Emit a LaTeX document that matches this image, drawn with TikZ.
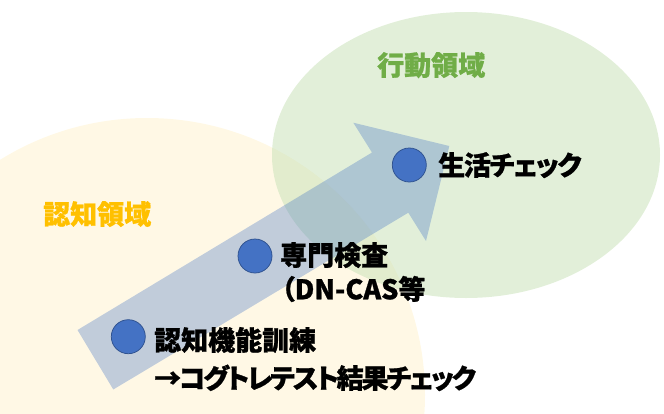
\documentclass[tikz,border=0pt]{standalone}
\usepackage{fontspec}
\setmainfont{Noto Sans CJK JP}[RawFeature=+palt, BoldFeatures={FakeBold=0.9}]
\newfontfamily\tightjp{Noto Sans CJK JP}[RawFeature=+palt, LetterSpace=-5, BoldFeatures={FakeBold=0.9}]
\newfontfamily\tighterjp{Noto Sans CJK JP}[RawFeature=+palt, LetterSpace=-8, BoldFeatures={FakeBold=0.9}]
\definecolor{yellowarea}{HTML}{FFF2CC}
\definecolor{greenarea}{HTML}{C5E0B4}
\definecolor{dotblue}{HTML}{4472C4}
\definecolor{dotedge}{HTML}{2F528F}
\definecolor{cogorange}{HTML}{FFC000}
\definecolor{actgreen}{HTML}{70AD47}
\begin{document}
\begin{tikzpicture}[x=1pt,y=-1pt,
  lbl/.style={anchor=base west, inner sep=0pt, font=\bfseries\fontsize{27}{30}\selectfont},
  tightlbl/.style={lbl, font=\tightjp\bfseries\fontsize{27}{30}\selectfont},
  tighterlbl/.style={lbl, font=\tighterjp\bfseries\fontsize{27}{30}\selectfont},
  dot/.style={circle, fill=dotblue, draw=dotedge, line width=0.75pt, minimum size=34pt, inner sep=0pt},
  area/.style={opacity=0.5}]
\useasboundingbox (0,0) rectangle (664,413);
\begin{scope}
\clip (0,0) rectangle (664,413);
\fill[yellowarea, area] (147,395) ellipse [x radius=278pt, y radius=277pt];
\fill[greenarea, area] (466,155) ellipse [x radius=194pt, y radius=143pt];
\end{scope}
% big arrow
\coordinate (t1) at (77.5,330);
\coordinate (s1) at (372,152.5);
\coordinate (b1) at (353.3,122.7);
\coordinate (tip) at (449.3,146);
\coordinate (b2) at (426,241);
\coordinate (s2) at (408.3,212.7);
\coordinate (t2) at (113.3,389.5);
\fill[dotblue, opacity=0.33] (t1) -- (s1) -- (b1) -- (tip) -- (b2) -- (s2) -- (t2) -- cycle;
% dots
\node[dot] (c1) at (128.3,336.7) {};
\node[dot] (c2) at (255,256) {};
\node[dot] (c3) at (409.3,165) {};
% labels
\node[lbl, text=cogorange] (cog) at (43,224.3) {認知領域};
\node[lbl, text=actgreen] (act) at (377,75.3) {行動領域};
\node[tightlbl] (life) at (438,175.3) {生活チェック};
\node[lbl] (exam) at (280,265.3) {専門検査};
\node[lbl] (dncas) at (281,299.3) {（DN-CAS等};
\node[lbl] (train) at (154,350.3) {認知機能訓練};
\node[tighterlbl] (cogtr) at (154,388.3) {→コグトレテスト結果チェック};
\end{tikzpicture}
\end{document}
